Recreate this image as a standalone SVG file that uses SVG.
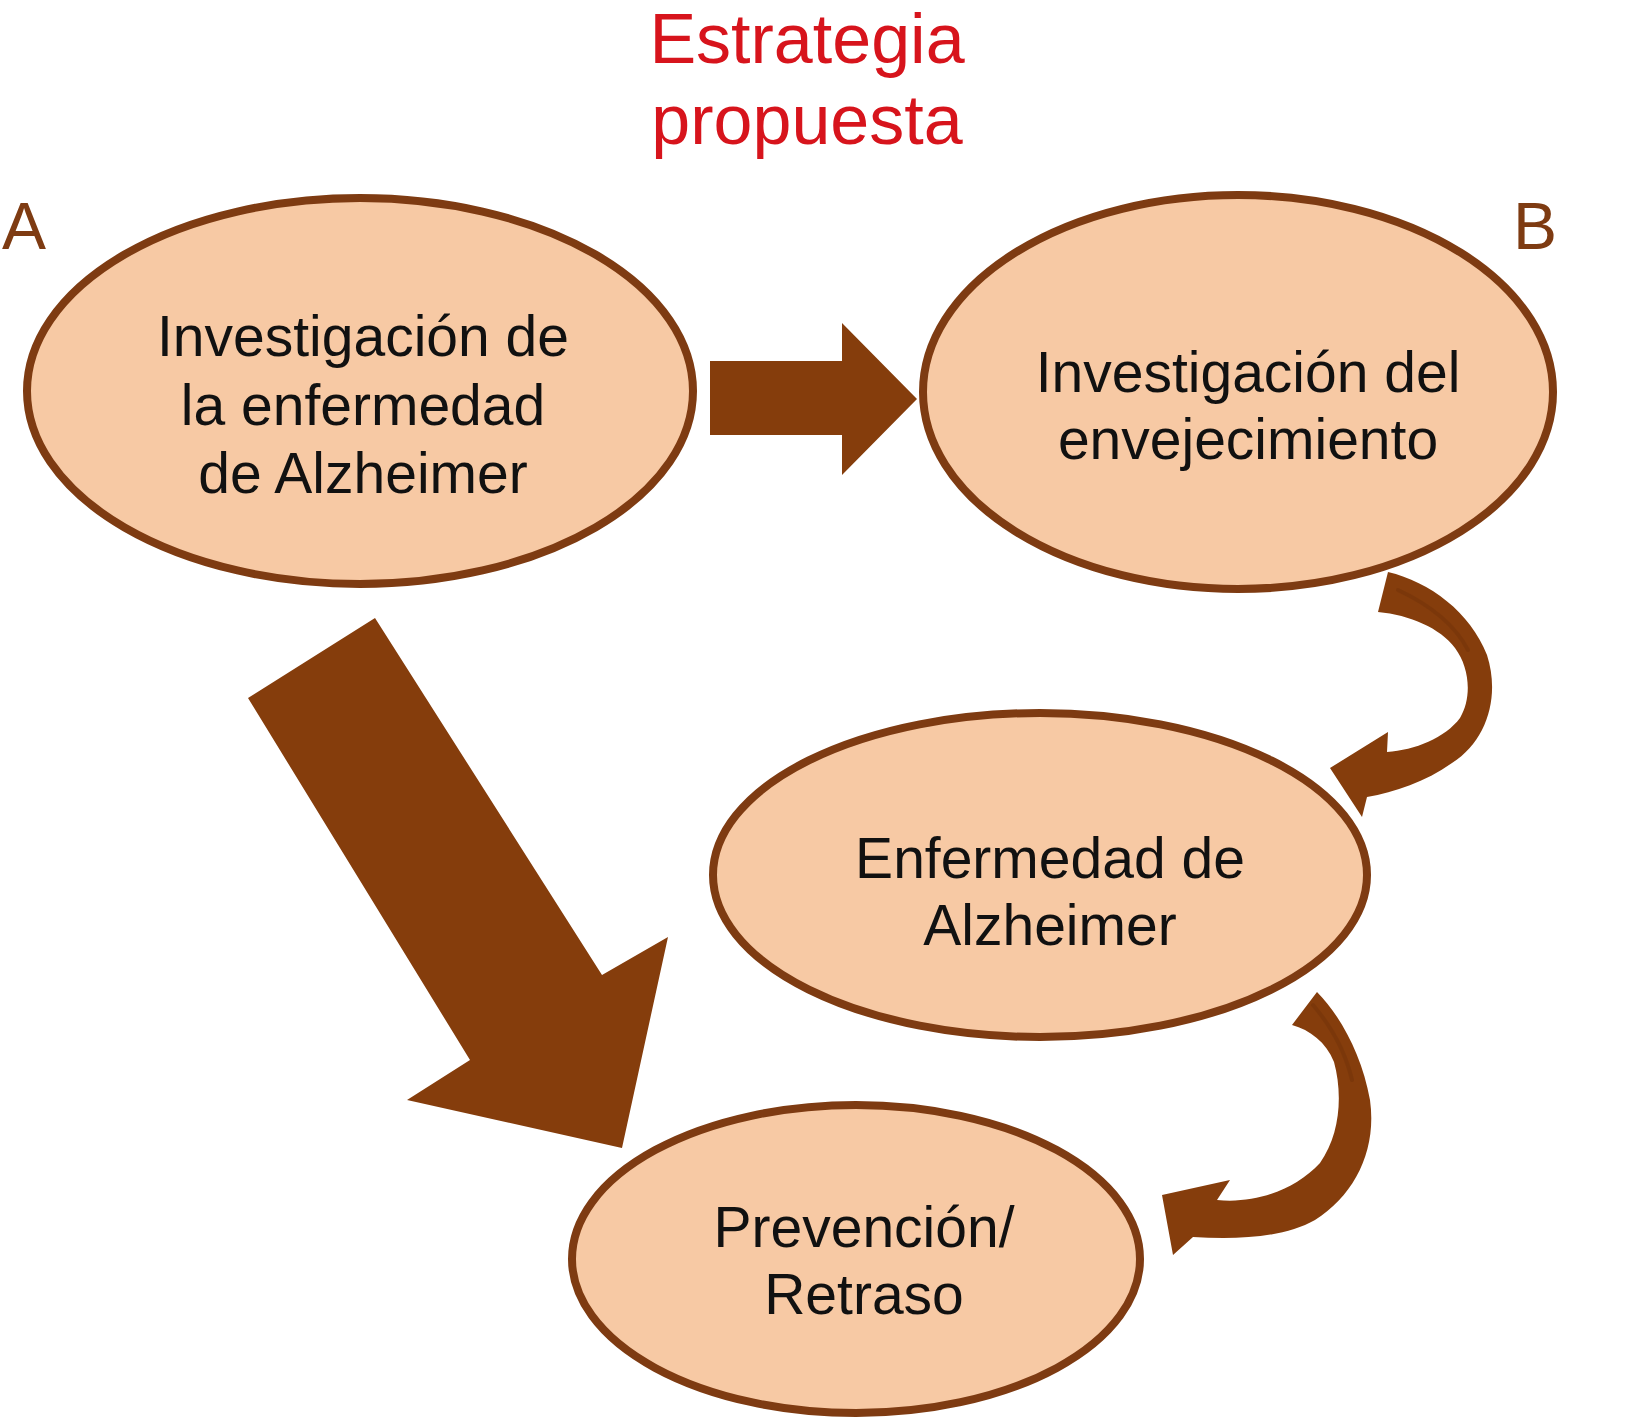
<svg xmlns="http://www.w3.org/2000/svg" width="1625" height="1428" viewBox="0 0 1625 1428">
<style>
.node{fill:#f7c9a4;stroke:#7e3b12;stroke-width:8}
.lbl{font-family:"Liberation Sans",Arial,sans-serif;font-size:57px;fill:#111;text-anchor:middle}
.title{font-family:"Liberation Sans",Arial,sans-serif;font-size:70px;fill:#d7141c;text-anchor:middle}
.tag{font-family:"Liberation Sans",Arial,sans-serif;font-size:66px;fill:#7e3b12}
.arr{fill:#853d0c}
.streak{fill:none;stroke:#6a2e08;stroke-width:4;stroke-linecap:round;opacity:0.35}
</style>
<rect width="1625" height="1428" fill="#ffffff"/>
<g id="title">
<text class="title" x="807" y="63">Estrategia</text>
<text class="title" x="807" y="144">propuesta</text>
</g>
<text class="tag" x="2" y="249">A</text>
<text class="tag" x="1513" y="249">B</text>
<g id="connectors">
<polygon class="arr" points="710,361 842,361 842,323 917,399 842,475 842,435 710,435"/>
<polygon class="arr" points="375,618 602,975 668,937 622,1148 407,1100 470,1060 248,698"/>
<path class="arr" d="M1388,572 C1430,582 1470,612 1487,655 C1500,695 1488,740 1452,763 C1425,782 1395,792 1367,797 L1362,817 L1330,768 L1388,732 L1387,752 C1415,750 1445,738 1460,718 C1472,698 1470,668 1455,648 C1440,628 1410,615 1378,612 Z"/>
<path class="streak" d="M1398,590 C1430,605 1455,625 1468,650"/>
<path class="arr" d="M1317,992 C1340,1015 1362,1055 1370,1100 C1377,1150 1355,1195 1315,1220 C1285,1237 1240,1240 1193,1237 L1173,1255 L1162,1195 L1230,1180 L1217,1200 C1255,1204 1295,1190 1320,1163 C1340,1135 1343,1095 1334,1062 C1326,1042 1310,1030 1292,1025 Z"/>
<path class="streak" d="M1313,1005 C1330,1025 1345,1050 1352,1080"/>
</g>
<g id="node-a">
<ellipse class="node" cx="360" cy="391" rx="333" ry="193"/>
<text class="lbl" x="363" y="356">Investigación de</text>
<text class="lbl" x="363" y="425">la enfermedad</text>
<text class="lbl" x="363" y="493">de Alzheimer</text>
</g>
<g id="node-b">
<ellipse class="node" cx="1238" cy="392" rx="315" ry="197"/>
<text class="lbl" x="1248" y="392">Investigación del</text>
<text class="lbl" x="1248" y="459">envejecimiento</text>
</g>
<g id="node-c">
<ellipse class="node" cx="1040" cy="875" rx="327" ry="162"/>
<text class="lbl" x="1050" y="878">Enfermedad de</text>
<text class="lbl" x="1050" y="945">Alzheimer</text>
</g>
<g id="node-d">
<ellipse class="node" cx="856" cy="1259" rx="284" ry="154"/>
<text class="lbl" x="864" y="1247">Prevención/</text>
<text class="lbl" x="864" y="1314">Retraso</text>
</g>
</svg>
